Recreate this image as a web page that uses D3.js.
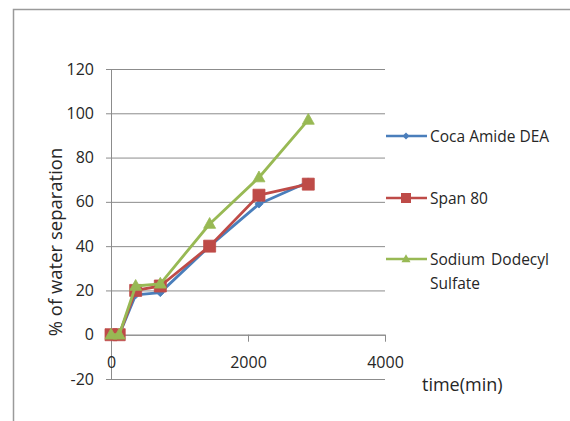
<!DOCTYPE html>
<html>
<head>
<meta charset="utf-8">
<script src="https://cdn.jsdelivr.net/npm/d3@7"></script>
<style>
  html, body { margin: 0; padding: 0; background: #fff; }
  svg { display: block; font-family: "Open Sans", "Liberation Sans", sans-serif; }
</style>
</head>
<body>
<svg id="chart" width="570" height="421"></svg>
<script>
// Time points (min) and the percentage of water separated for each surfactant
const times = [0, 120, 360, 720, 1440, 2160, 2880];
const cocaAmideDEA = [0, 0, 18, 19, 40, 59, 69];
const span80 = [0, 0, 20, 22, 40, 63, 68];
const sodiumDodecylSulfate = [0, 0, 22, 23, 50, 71, 97];

const seriesNames = ["Coca Amide DEA", "Span 80", "Sodium Dodecyl Sulfate"];
const yTicks = [-20, 0, 20, 40, 60, 80, 100, 120];
const xTicks = [0, 2000, 4000];

const series = [
  { name: seriesNames[0], values: cocaAmideDEA, color: "#4a7ebb", marker: "diamond", legend: ["Coca Amide DEA"] },
  { name: seriesNames[1], values: span80, color: "#be4b48", marker: "square", legend: ["Span 80"] },
  { name: seriesNames[2], values: sodiumDodecylSulfate, color: "#98b954", marker: "triangle", legend: ["Sodium Dodecyl", "Sulfate"] }
];

const svg = d3.select("#chart");
const gridColor = "#8c8c8c";
const textColor = "#262626";

// Outer chart frame
svg.append("path")
  .attr("d", "M13.5,421 L13.5,9.5 L570,9.5")
  .attr("fill", "none")
  .attr("stroke", "#9a9a9a")
  .attr("stroke-width", 1.5);

const x = d3.scaleLinear().domain([0, 4000]).range([111, 385]);
const y = d3.scaleLinear().domain([-20, 120]).range([379, 69]);

// Horizontal gridlines with short outside ticks
const yAxis = d3.axisLeft(y)
  .tickValues(yTicks)
  .tickSize(-(x.range()[1] - x.range()[0]))
  .tickSizeOuter(0)
  .tickPadding(17)
  .tickFormat(d => String(d));
const gy = svg.append("g").attr("transform", `translate(${x(0)},0)`).call(yAxis);
gy.select(".domain").attr("stroke", gridColor);
gy.selectAll(".tick line").attr("stroke", gridColor).attr("x1", -5);
gy.selectAll(".tick text")
  .attr("fill", textColor)
  .attr("font-size", 16)
  .attr("font-family", "'Open Sans', sans-serif");

// Horizontal axis drawn along y = 0, ticks pointing down
const xAxis = d3.axisBottom(x)
  .tickValues(xTicks)
  .tickSize(7)
  .tickSizeOuter(0)
  .tickFormat(d => String(d))
  .tickPadding(15);
const gx = svg.append("g").attr("transform", `translate(0,${y(0)})`).call(xAxis);
gx.select(".domain").attr("stroke", gridColor);
gx.selectAll(".tick line").attr("stroke", gridColor);
gx.selectAll(".tick text")
  .attr("fill", textColor)
  .attr("font-size", 16)
  .attr("font-family", "'Open Sans', sans-serif");

// Axis titles
svg.append("text")
  .attr("transform", `translate(62,${(y(120) + y(-20)) / 2 + 18}) rotate(-90)`)
  .attr("text-anchor", "middle")
  .attr("fill", textColor)
  .attr("font-size", 18.5)
  .text("% of water separation");

svg.append("text")
  .attr("x", 422)
  .attr("y", 391)
  .attr("fill", textColor)
  .attr("font-size", 18)
  .text("time(min)");

// Marker shapes
function markerPath(type, s) {
  if (type === "square") return d3.symbol(d3.symbolSquare, s * s)();
  if (type === "diamond") {
    const r = s / 2;
    return `M0,${-r}L${r},0L0,${r}L${-r},0Z`;
  }
  const h = s * 0.9;
  return `M0,${-h * 0.6}L${s / 2},${h * 0.4}L${-s / 2},${h * 0.4}Z`;
}
const markerSize = { diamond: 8, square: 12, triangle: 12 };

const line = d3.line().x(d => x(d[0])).y(d => y(d[1]));

series.forEach(s => {
  const pts = times.map((t, i) => [t, s.values[i]]);
  const g = svg.append("g");
  g.append("path")
    .datum(pts)
    .attr("d", line)
    .attr("fill", "none")
    .attr("stroke", s.color)
    .attr("stroke-width", 2.8)
    .attr("stroke-linejoin", "round");
  g.selectAll("path.mk")
    .data(pts)
    .join("path")
    .attr("class", "mk")
    .attr("transform", d => `translate(${x(d[0])},${y(d[1])})`)
    .attr("d", markerPath(s.marker, markerSize[s.marker]))
    .attr("fill", s.color)
    .attr("stroke", s.color)
    .attr("stroke-width", 0.8);
});

// Legend
const legendY = [136, 198, 259];
series.forEach((s, i) => {
  const g = svg.append("g").attr("transform", `translate(0,${legendY[i]})`);
  g.append("line")
    .attr("x1", 386).attr("x2", 427)
    .attr("stroke", s.color)
    .attr("stroke-width", 2.5);
  g.append("path")
    .attr("transform", "translate(406,0)")
    .attr("d", markerPath(s.marker, s.marker === "square" ? 10 : (s.marker === "diamond" ? 7 : 9)))
    .attr("fill", s.color);
  s.legend.forEach((txt, j) => {
    g.append("text")
      .attr("x", 430)
      .attr("y", 5.5 + j * 24)
      .attr("fill", textColor)
      .attr("font-size", 15.5)
      .attr("word-spacing", j === 0 && s.legend.length > 1 ? 2 : 0)
      .text(txt);
  });
});
</script>
</body>
</html>
